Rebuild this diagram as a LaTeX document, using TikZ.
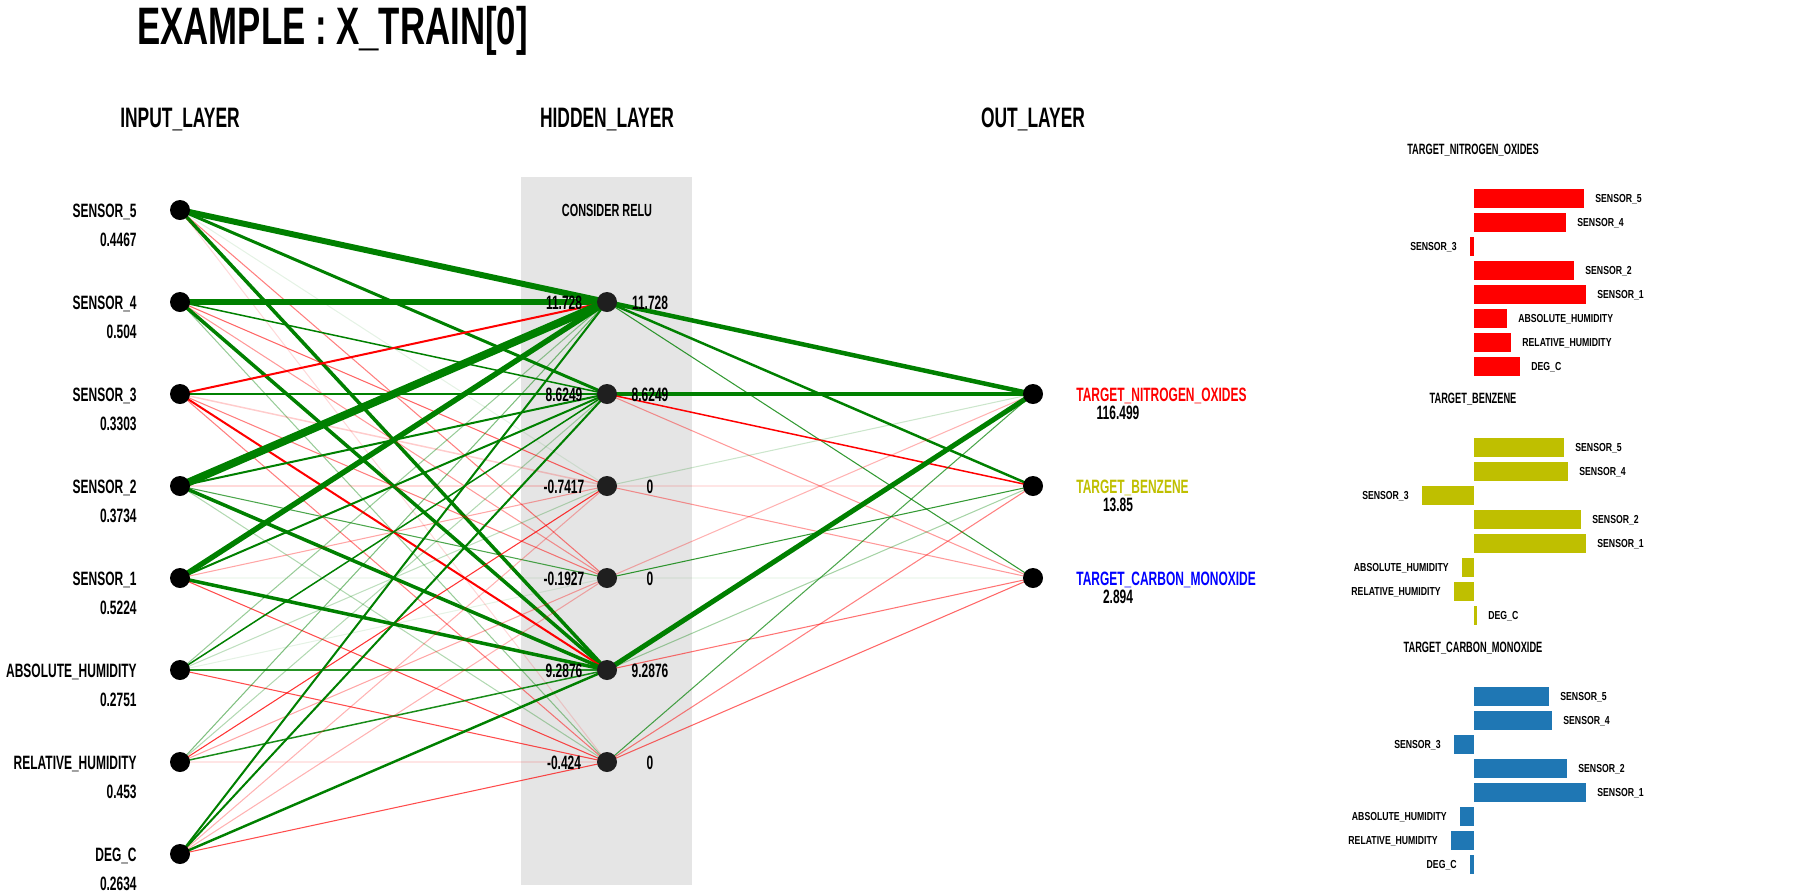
\documentclass[tikz,border=0pt]{standalone}
\usepackage{fontspec}
\setmainfont{Liberation Sans}[FakeStretch=0.62]
\newfontfamily\barfont{Liberation Sans}[FakeStretch=0.75]
\newfontfamily\titlefont{Liberation Sans}[FakeStretch=0.66]
\usepackage{tikz}
\usetikzlibrary{backgrounds}
\definecolor{posgreen}{RGB}{0,128,0}
\definecolor{benzcol}{RGB}{191,191,0}
\definecolor{cocol}{RGB}{31,119,180}
\definecolor{relugray}{RGB}{229,229,229}

\begin{document}
\begin{tikzpicture}[x=0.02cm, y=-0.02cm,
  neuron/.style={circle, fill=black, minimum size=0.4cm, inner sep=0pt},
  hidden/.style={neuron, fill=black!88},
  txt/.style={font=\bfseries\fontsize{11}{13}\selectfont, inner sep=0pt},
  head/.style={font=\bfseries\fontsize{16}{18}\selectfont, inner sep=0pt, anchor=base},
  ctitle/.style={font=\bfseries\fontsize{8.5}{10}\selectfont, inner sep=0pt, anchor=base},
  blbl/.style={font=\barfont\bfseries\fontsize{6.6}{8}\selectfont, inner sep=0pt},
  wplus/.style={draw=posgreen, draw opacity=#1}, wplus/.default=1,
  wminus/.style={draw=red, draw opacity=#1}, wminus/.default=1]
\useasboundingbox (0,0) rectangle (1818,894);
\node[anchor=base west, inner sep=0pt, font=\titlefont\bfseries\fontsize{30}{32}\selectfont] (title) at (137,44) {EXAMPLE : X\_TRAIN[0]};
\node[head] (inhead) at (180,127) {INPUT\_LAYER};
\node[head] (hidhead) at (607,127) {HIDDEN\_LAYER};
\node[head] (outhead) at (1033,127) {OUT\_LAYER};
\node[txt, font=\bfseries\fontsize{10}{12}\selectfont] (relu) at (607,210) {CONSIDER RELU};

\node[neuron] (s5) at (180,210) {};
\node[neuron] (s4) at (180,302) {};
\node[neuron] (s3) at (180,394) {};
\node[neuron] (s2) at (180,486) {};
\node[neuron] (s1) at (180,578) {};
\node[neuron] (ah) at (180,670) {};
\node[neuron] (rh) at (180,762) {};
\node[neuron] (dc) at (180,854) {};
\node[txt, anchor=base east] (s5n) at (137,217) {SENSOR\_5};
\node[txt, anchor=base east] (s5v) at (137,246) {0.4467};
\node[txt, anchor=base east] (s4n) at (137,309) {SENSOR\_4};
\node[txt, anchor=base east] (s4v) at (137,338) {0.504};
\node[txt, anchor=base east] (s3n) at (137,401) {SENSOR\_3};
\node[txt, anchor=base east] (s3v) at (137,430) {0.3303};
\node[txt, anchor=base east] (s2n) at (137,493) {SENSOR\_2};
\node[txt, anchor=base east] (s2v) at (137,522) {0.3734};
\node[txt, anchor=base east] (s1n) at (137,585) {SENSOR\_1};
\node[txt, anchor=base east] (s1v) at (137,614) {0.5224};
\node[txt, anchor=base east] (ahn) at (137,677) {ABSOLUTE\_HUMIDITY};
\node[txt, anchor=base east] (ahv) at (137,706) {0.2751};
\node[txt, anchor=base east] (rhn) at (137,769) {RELATIVE\_HUMIDITY};
\node[txt, anchor=base east] (rhv) at (137,798) {0.453};
\node[txt, anchor=base east] (dcn) at (137,861) {DEG\_C};
\node[txt, anchor=base east] (dcv) at (137,890) {0.2634};

\node[hidden] (h1) at (607,302) {};
\node[hidden] (h2) at (607,394) {};
\node[hidden] (h3) at (607,486) {};
\node[hidden] (h4) at (607,578) {};
\node[hidden] (h5) at (607,670) {};
\node[hidden] (h6) at (607,762) {};
\node[txt, anchor=base] (h1a) at (564,309) {11.728};
\node[txt, anchor=base] (h1b) at (650,309) {11.728};
\node[txt, anchor=base] (h2a) at (564,401) {8.6249};
\node[txt, anchor=base] (h2b) at (650,401) {8.6249};
\node[txt, anchor=base] (h3a) at (564,493) {-0.7417};
\node[txt, anchor=base] (h3b) at (650,493) {0};
\node[txt, anchor=base] (h4a) at (564,585) {-0.1927};
\node[txt, anchor=base] (h4b) at (650,585) {0};
\node[txt, anchor=base] (h5a) at (564,677) {9.2876};
\node[txt, anchor=base] (h5b) at (650,677) {9.2876};
\node[txt, anchor=base] (h6a) at (564,769) {-0.424};
\node[txt, anchor=base] (h6b) at (650,769) {0};

\node[neuron] (nox) at (1033,394) {};
\node[neuron] (benz) at (1033,486) {};
\node[neuron] (co) at (1033,578) {};
\node[txt, anchor=base west, red] (noxn) at (1076,401) {TARGET\_NITROGEN\_OXIDES};
\node[txt, anchor=base] (noxv) at (1118,419) {116.499};
\node[txt, anchor=base west, benzcol] (benzn) at (1076,493) {TARGET\_BENZENE};
\node[txt, anchor=base] (benzv) at (1118,511) {13.85};
\node[txt, anchor=base west, blue] (con) at (1076,585) {TARGET\_CARBON\_MONOXIDE};
\node[txt, anchor=base] (cov) at (1118,603) {2.894};

\begin{scope}[on background layer]
\fill[relugray] (521,177) rectangle (692,885);
\draw[wplus, line width=3.4pt] (s5.center) -- (h1.center);
\draw[wplus, line width=1.7pt] (s5.center) -- (h2.center);
\draw[wplus=0.1, line width=0.6pt] (s5.center) -- (h3.center);
\draw[wminus=0.5, line width=0.6pt] (s5.center) -- (h4.center);
\draw[wplus, line width=2pt] (s5.center) -- (h5.center);
\draw[wminus=0.15, line width=0.6pt] (s5.center) -- (h6.center);
\draw[wplus, line width=2.9pt] (s4.center) -- (h1.center);
\draw[wplus, line width=0.85pt] (s4.center) -- (h2.center);
\draw[wminus=0.6, line width=0.6pt] (s4.center) -- (h3.center);
\draw[wminus=0.4, line width=0.6pt] (s4.center) -- (h4.center);
\draw[wplus, line width=2pt] (s4.center) -- (h5.center);
\draw[wplus=0.4, line width=0.6pt] (s4.center) -- (h6.center);
\draw[wminus, line width=1.15pt] (s3.center) -- (h1.center);
\draw[wplus, line width=0.85pt] (s3.center) -- (h2.center);
\draw[wminus=0.2, line width=0.85pt] (s3.center) -- (h3.center);
\draw[wminus=0.5, line width=0.6pt] (s3.center) -- (h4.center);
\draw[wminus, line width=1.15pt] (s3.center) -- (h5.center);
\draw[wminus=0.5, line width=0.6pt] (s3.center) -- (h6.center);
\draw[wplus, line width=4.5pt] (s2.center) -- (h1.center);
\draw[wplus, line width=1.15pt] (s2.center) -- (h2.center);
\draw[wminus=0.15, line width=1.4pt] (s2.center) -- (h3.center);
\draw[wplus=0.7, line width=0.6pt] (s2.center) -- (h4.center);
\draw[wplus, line width=2pt] (s2.center) -- (h5.center);
\draw[wplus=0.3, line width=0.6pt] (s2.center) -- (h6.center);
\draw[wplus, line width=3.1pt] (s1.center) -- (h1.center);
\draw[wplus, line width=1.15pt] (s1.center) -- (h2.center);
\draw[wminus=0.35, line width=0.6pt] (s1.center) -- (h3.center);
\draw[wplus=0.05, line width=0.6pt] (s1.center) -- (h4.center);
\draw[wplus, line width=2pt] (s1.center) -- (h5.center);
\draw[wminus=0.7, line width=0.6pt] (s1.center) -- (h6.center);
\draw[wplus=0.4, line width=0.6pt] (ah.center) -- (h1.center);
\draw[wplus, line width=0.85pt] (ah.center) -- (h2.center);
\draw[wplus=0.25, line width=0.6pt] (ah.center) -- (h3.center);
\draw[wplus=0.1, line width=0.6pt] (ah.center) -- (h4.center);
\draw[wplus=0.85, line width=1.15pt] (ah.center) -- (h5.center);
\draw[wminus=0.7, line width=0.6pt] (ah.center) -- (h6.center);
\draw[wplus=0.5, line width=0.6pt] (rh.center) -- (h1.center);
\draw[wplus=0.3, line width=0.6pt] (rh.center) -- (h2.center);
\draw[wminus=0.8, line width=0.6pt] (rh.center) -- (h3.center);
\draw[wminus=0.35, line width=0.6pt] (rh.center) -- (h4.center);
\draw[wplus=0.9, line width=0.85pt] (rh.center) -- (h5.center);
\draw[wminus=0.1, line width=1.15pt] (rh.center) -- (h6.center);
\draw[wplus, line width=1.15pt] (dc.center) -- (h1.center);
\draw[wplus, line width=1.15pt] (dc.center) -- (h2.center);
\draw[wminus=0.3, line width=0.6pt] (dc.center) -- (h3.center);
\draw[wminus=0.3, line width=0.6pt] (dc.center) -- (h4.center);
\draw[wplus, line width=1.4pt] (dc.center) -- (h5.center);
\draw[wminus=0.7, line width=0.6pt] (dc.center) -- (h6.center);
\draw[wplus, line width=2.55pt] (h1.center) -- (nox.center);
\draw[wplus, line width=1.4pt] (h1.center) -- (benz.center);
\draw[wplus=0.8, line width=0.6pt] (h1.center) -- (co.center);
\draw[wplus, line width=2.55pt] (h2.center) -- (nox.center);
\draw[wminus, line width=0.85pt] (h2.center) -- (benz.center);
\draw[wminus=0.4, line width=0.6pt] (h2.center) -- (co.center);
\draw[wplus=0.2, line width=0.6pt] (h3.center) -- (nox.center);
\draw[wminus=0.1, line width=1.15pt] (h3.center) -- (benz.center);
\draw[wminus=0.4, line width=0.6pt] (h3.center) -- (co.center);
\draw[wminus=0.3, line width=0.6pt] (h4.center) -- (nox.center);
\draw[wplus=0.8, line width=0.6pt] (h4.center) -- (benz.center);
\draw[wplus=0.05, line width=1.15pt] (h4.center) -- (co.center);
\draw[wplus, line width=2.85pt] (h5.center) -- (nox.center);
\draw[wplus=0.35, line width=0.6pt] (h5.center) -- (benz.center);
\draw[wminus=0.55, line width=0.6pt] (h5.center) -- (co.center);
\draw[wplus=0.7, line width=0.6pt] (h6.center) -- (nox.center);
\draw[wminus=0.5, line width=0.6pt] (h6.center) -- (benz.center);
\draw[wminus=0.6, line width=0.6pt] (h6.center) -- (co.center);
\end{scope}

\node[ctitle] (noxt) at (1473,154) {TARGET\_NITROGEN\_OXIDES};
\fill[red] (1474,188.5) rectangle (1584,207.5);
\fill[red] (1474,212.5) rectangle (1566,231.5);
\fill[red] (1470,236.5) rectangle (1474,255.5);
\fill[red] (1474,260.5) rectangle (1574,279.5);
\fill[red] (1474,284.5) rectangle (1586,303.5);
\fill[red] (1474,308.5) rectangle (1507,327.5);
\fill[red] (1474,332.5) rectangle (1511,351.5);
\fill[red] (1474,356.5) rectangle (1520,375.5);
\node[blbl, anchor=base west] (a1) at (1595,202) {SENSOR\_5};
\node[blbl, anchor=base west] (a2) at (1577,226) {SENSOR\_4};
\node[blbl, anchor=base east] (a3) at (1457,250) {SENSOR\_3};
\node[blbl, anchor=base west] (a4) at (1585,274) {SENSOR\_2};
\node[blbl, anchor=base west] (a5) at (1597,298) {SENSOR\_1};
\node[blbl, anchor=base west] (a6) at (1518,322) {ABSOLUTE\_HUMIDITY};
\node[blbl, anchor=base west] (a7) at (1522,346) {RELATIVE\_HUMIDITY};
\node[blbl, anchor=base west] (a8) at (1531,370) {DEG\_C};

\node[ctitle] (benzt) at (1473,403) {TARGET\_BENZENE};
\fill[benzcol] (1474,437.5) rectangle (1564,456.5);
\fill[benzcol] (1474,461.5) rectangle (1568,480.5);
\fill[benzcol] (1422,485.5) rectangle (1474,504.5);
\fill[benzcol] (1474,509.5) rectangle (1581,528.5);
\fill[benzcol] (1474,533.5) rectangle (1586,552.5);
\fill[benzcol] (1462,557.5) rectangle (1474,576.5);
\fill[benzcol] (1454,581.5) rectangle (1474,600.5);
\fill[benzcol] (1474,605.5) rectangle (1477,624.5);
\node[blbl, anchor=base west] (b1) at (1575,451) {SENSOR\_5};
\node[blbl, anchor=base west] (b2) at (1579,475) {SENSOR\_4};
\node[blbl, anchor=base east] (b3) at (1409,499) {SENSOR\_3};
\node[blbl, anchor=base west] (b4) at (1592,523) {SENSOR\_2};
\node[blbl, anchor=base west] (b5) at (1597,547) {SENSOR\_1};
\node[blbl, anchor=base east] (b6) at (1449,571) {ABSOLUTE\_HUMIDITY};
\node[blbl, anchor=base east] (b7) at (1441,595) {RELATIVE\_HUMIDITY};
\node[blbl, anchor=base west] (b8) at (1488,619) {DEG\_C};

\node[ctitle] (cot) at (1473,652) {TARGET\_CARBON\_MONOXIDE};
\fill[cocol] (1474,686.5) rectangle (1549,705.5);
\fill[cocol] (1474,710.5) rectangle (1552,729.5);
\fill[cocol] (1454,734.5) rectangle (1474,753.5);
\fill[cocol] (1474,758.5) rectangle (1567,777.5);
\fill[cocol] (1474,782.5) rectangle (1586,801.5);
\fill[cocol] (1460,806.5) rectangle (1474,825.5);
\fill[cocol] (1451,830.5) rectangle (1474,849.5);
\fill[cocol] (1470,854.5) rectangle (1474,873.5);
\node[blbl, anchor=base west] (c1) at (1560,700) {SENSOR\_5};
\node[blbl, anchor=base west] (c2) at (1563,724) {SENSOR\_4};
\node[blbl, anchor=base east] (c3) at (1441,748) {SENSOR\_3};
\node[blbl, anchor=base west] (c4) at (1578,772) {SENSOR\_2};
\node[blbl, anchor=base west] (c5) at (1597,796) {SENSOR\_1};
\node[blbl, anchor=base east] (c6) at (1447,820) {ABSOLUTE\_HUMIDITY};
\node[blbl, anchor=base east] (c7) at (1438,844) {RELATIVE\_HUMIDITY};
\node[blbl, anchor=base east] (c8) at (1457,868) {DEG\_C};
\end{tikzpicture}
\end{document}
